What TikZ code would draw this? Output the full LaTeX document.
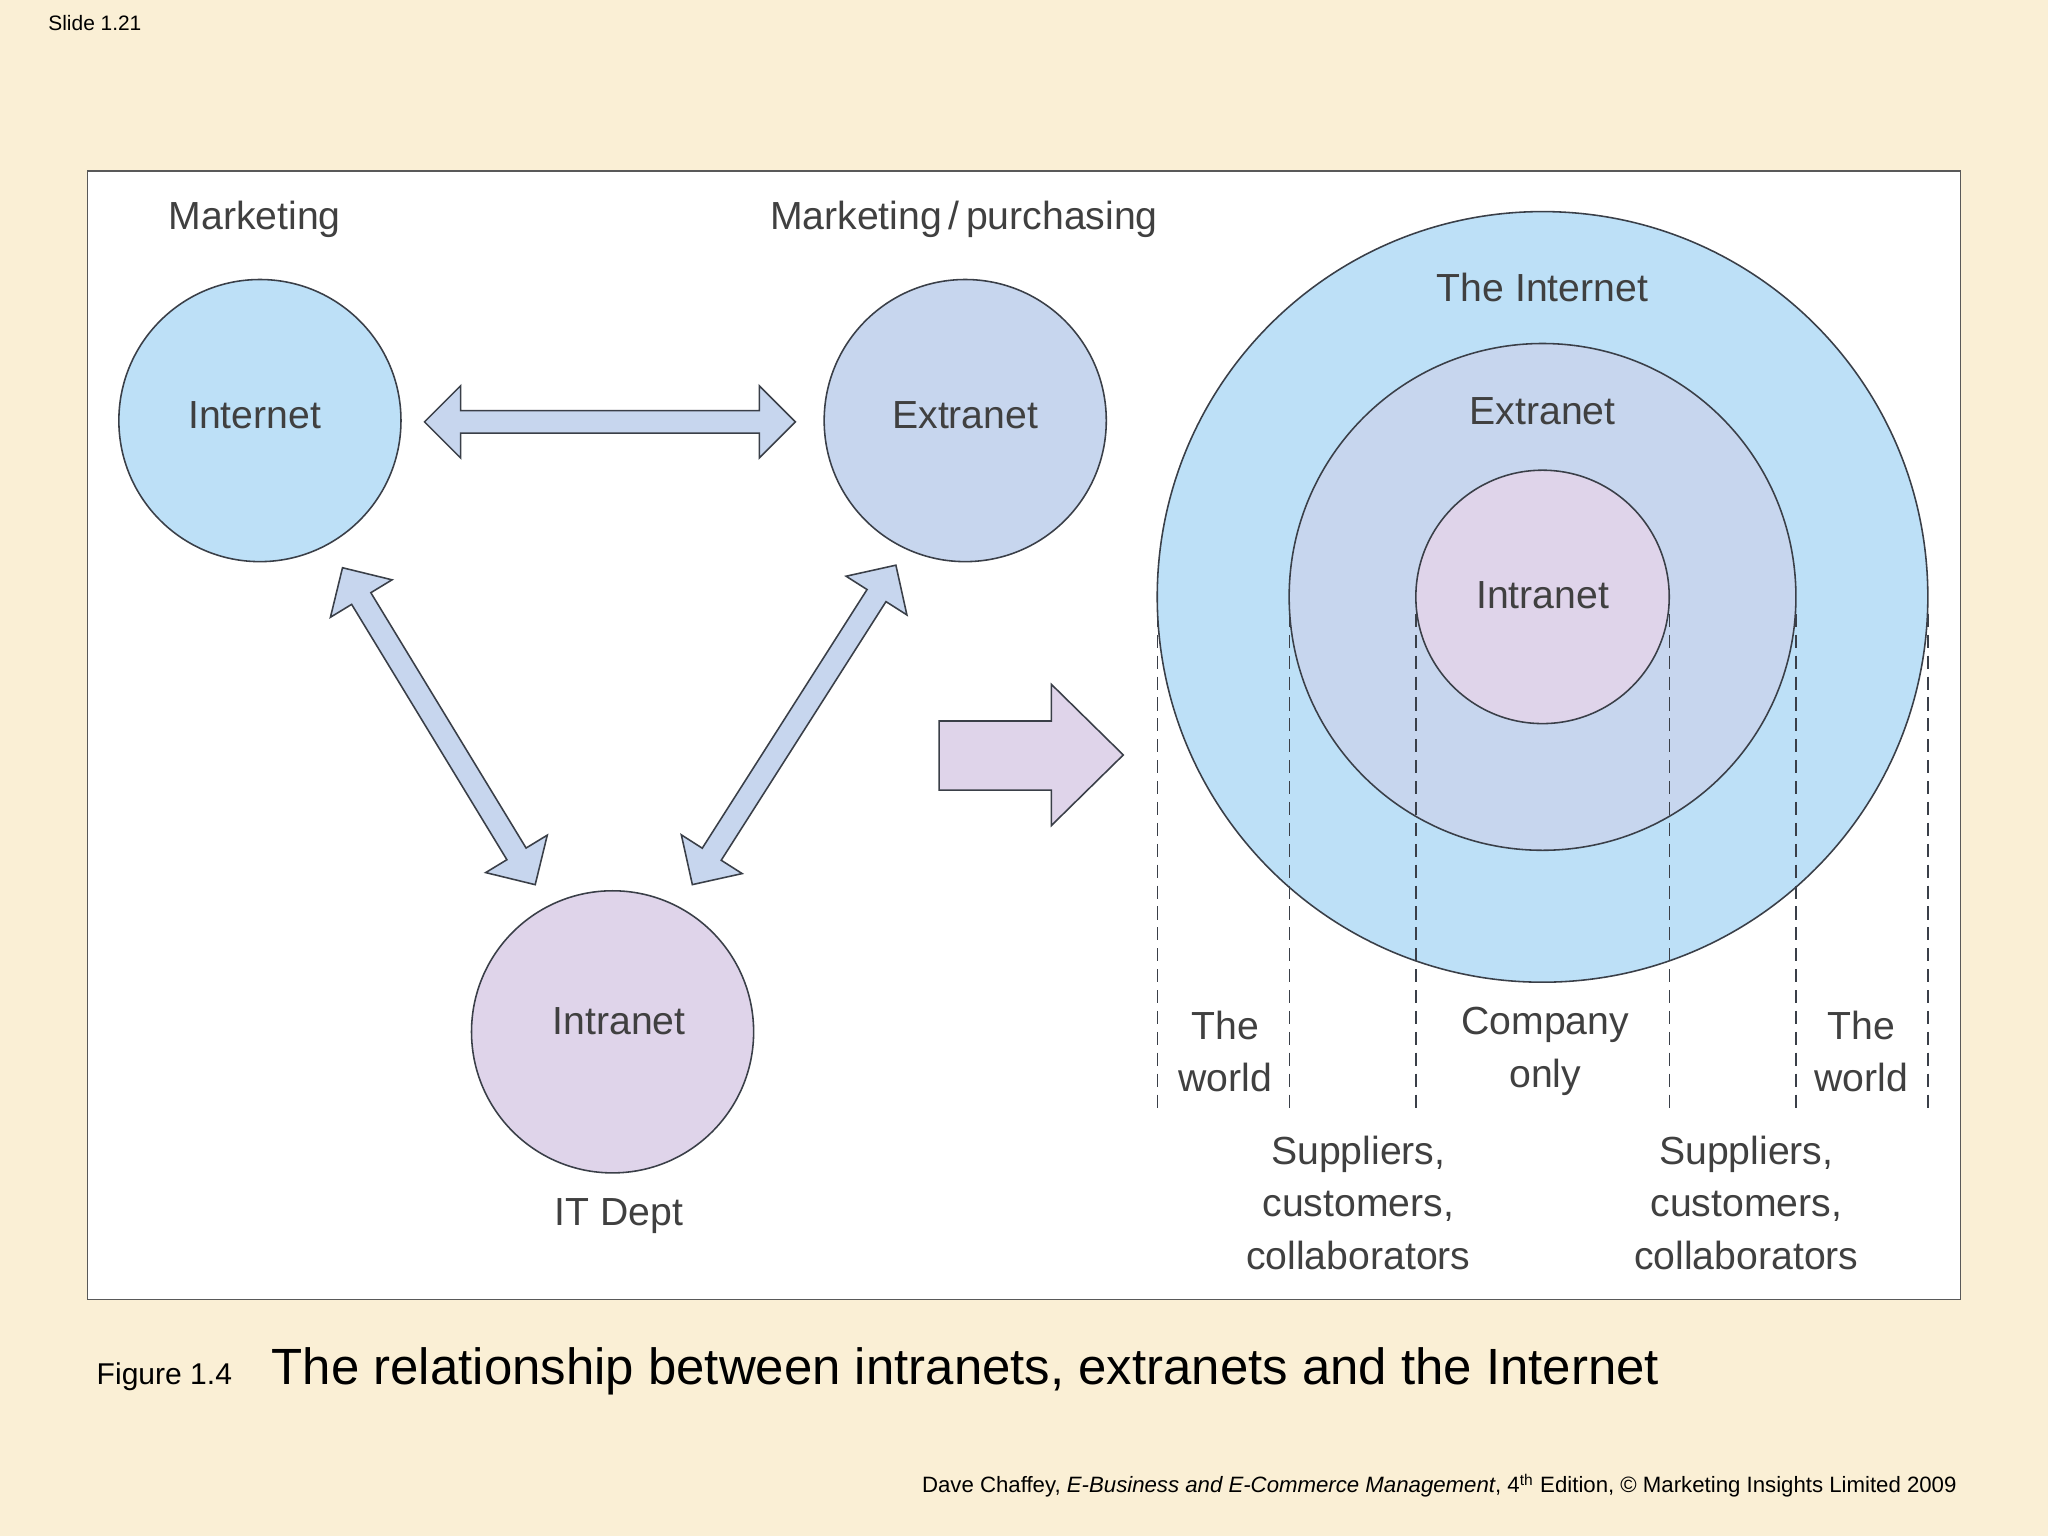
\documentclass[tikz,border=0pt]{standalone}
\usepackage{fontspec}
\setmainfont{Liberation Sans}
\usetikzlibrary{shapes.arrows}
\definecolor{bg}{HTML}{FAEFD5}
\definecolor{cInt}{HTML}{BDE0F7}
\definecolor{cExt}{HTML}{C7D6EE}
\definecolor{cIntra}{HTML}{DFD4EA}
\definecolor{txt}{HTML}{404040}
\definecolor{edge}{HTML}{3A3F48}
\begin{document}
\begin{tikzpicture}[x=0.5pt,y=-0.5pt,
  lab/.style={text=txt,font=\fontsize{15}{20}\selectfont,align=center},
  circ/.style={circle,draw=edge,line width=0.6pt,minimum size=108pt,inner sep=0pt},
  darr/.style={double arrow,draw=edge,fill=cExt,line width=0.6pt,inner xsep=0pt,inner ysep=4pt,double arrow head extend=9.5pt,font=\fontsize{1}{1}\selectfont},
  vdash/.style={draw=edge,line width=0.5pt,dash pattern=on 5pt off 3pt}]
\fill[bg] (0,0) rectangle (1568,1176);
\useasboundingbox (0,0) rectangle (1568,1176);
\node[anchor=west,font=\fontsize{8}{10}\selectfont] (slide) at (30,18) {Slide 1.21};
\draw[fill=white,draw=gray!70!black,line width=0.5pt] (67,131) rectangle (1501,995);
% left circles
\node[circ,fill=cInt] (inet) at (199,322) {};
\node[lab] at (195,318) {Internet};
\node[circ,fill=cExt] (ext) at (739,322) {};
\node[lab] at (739,318) {Extranet};
\node[circ,fill=cIntra] (intra) at (469,790) {};
\node[lab] at (474,782) {Intranet};
\node[lab] (mk) at (195,168) {Marketing};
\node[lab] (mp) at (738,168) {Marketing\,/\,purchasing};
\node[lab] (it) at (474,931) {IT Dept};
% double arrows
\node[darr,minimum height=142pt] (a1) at (467,323) {};
\node[darr,minimum height=142pt,rotate=-58.7] (a2) at (336,556) {};
\node[darr,minimum height=145pt,rotate=57.5] (a3) at (608,555) {};
% big arrow
\draw[fill=cIntra,draw=edge,line width=0.6pt] (719,552) -- (805,552) -- (805,524) -- (860,578) -- (805,632) -- (805,605) -- (719,605) -- cycle;
% concentric
\draw[fill=cInt,draw=edge,line width=0.6pt] (1181,457) circle (295);
\draw[fill=cExt,draw=edge,line width=0.6pt] (1181,457) circle (194);
\draw[fill=cIntra,draw=edge,line width=0.6pt] (1181,457) circle (97);
\foreach \x in {886,987,1084,1278,1375,1476} \draw[vdash] (\x,470) -- (\x,850);
\node[lab] at (1181,220) {The Internet};
\node[lab] at (1181,315) {Extranet};
\node[lab] at (1181,456) {Intranet};
\node[lab] at (938,805) {The\\world};
\node[lab] at (1183,805) {Company\\only};
\node[lab] at (1425,805) {The\\world};
\node[lab] at (1040,921) {Suppliers,\\customers,\\collaborators};
\node[lab] at (1337,921) {Suppliers,\\customers,\\collaborators};
% caption
\node[anchor=base west,font=\fontsize{11.5}{14}\selectfont] (fig) at (67,1060) {Figure 1.4};
\node[anchor=base west,font=\fontsize{19.5}{22}\selectfont] (title) at (201,1060) {The relationship between intranets, extranets and the Internet};
\node[anchor=base east,font=\fontsize{8.5}{10}\selectfont] (foot) at (1505,1143) {Dave Chaffey, \textit{E-Business and E-Commerce Management}, 4\textsuperscript{th} Edition, © Marketing Insights Limited 2009};
\end{tikzpicture}
\end{document}
